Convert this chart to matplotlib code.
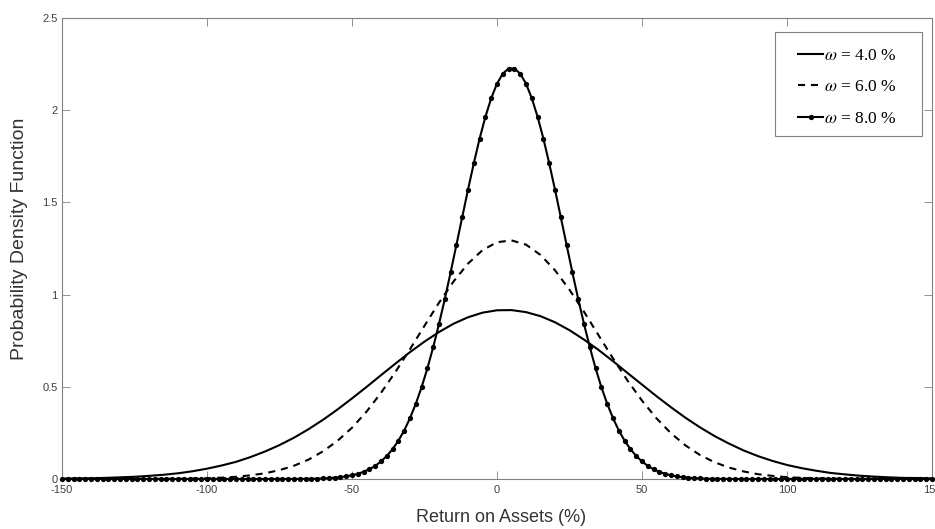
import numpy as np
import matplotlib
matplotlib.use("Agg")
import matplotlib.pyplot as plt
from matplotlib.patches import Rectangle

plt.rcParams["font.family"] = ["Liberation Sans", "DejaVu Sans"]
plt.rcParams["mathtext.fontset"] = "stix"

# Return on assets grid (%) for the two plain curves
roa_coarse = np.arange(-150, 151, 5)

# Density for omega = 4.0 %
pdf_w4 = [
    0.002, 0.003, 0.004, 0.006, 0.009, 0.012, 0.017, 0.023, 0.031, 0.042,
    0.056, 0.073, 0.093, 0.119, 0.149, 0.184, 0.224, 0.270, 0.321, 0.377,
    0.437, 0.499, 0.563, 0.626, 0.688, 0.745, 0.797, 0.842, 0.877, 0.902,
    0.915,
    0.916, 0.905, 0.883, 0.850, 0.807, 0.756, 0.700, 0.639, 0.575, 0.512,
    0.449, 0.389, 0.332, 0.280, 0.233, 0.192, 0.155, 0.124, 0.098, 0.076,
    0.059, 0.045, 0.033, 0.025, 0.018, 0.013, 0.009, 0.006, 0.005, 0.003,
]

# Density for omega = 6.0 %
pdf_w6 = [
    0.000, 0.000, 0.000, 0.000, 0.000, 0.000, 0.000, 0.001, 0.001, 0.002,
    0.004, 0.007, 0.012, 0.020, 0.031, 0.048, 0.072, 0.105, 0.150, 0.207,
    0.278, 0.365, 0.467, 0.581, 0.704, 0.831, 0.956, 1.071, 1.168, 1.241,
    1.284,
    1.294, 1.271, 1.215, 1.132, 1.026, 0.907, 0.780, 0.654, 0.534, 0.425,
    0.329, 0.248, 0.182, 0.130, 0.091, 0.062, 0.041, 0.026, 0.017, 0.010,
    0.006, 0.004, 0.002, 0.001, 0.001, 0.000, 0.000, 0.000, 0.000, 0.000,
]

# Finer grid (%) for the marked curve
roa_fine = np.arange(-150, 151, 2)

# Density for omega = 8.0 %
pdf_w8 = (
    [0.0] * 41
    + [
        0.001, 0.001, 0.001, 0.002, 0.003, 0.005, 0.007, 0.010, 0.014, 0.020,
        0.028, 0.039, 0.053, 0.071, 0.095, 0.125, 0.162, 0.208, 0.263, 0.330,
        0.408, 0.498, 0.600, 0.715, 0.841, 0.976, 1.120, 1.269, 1.420, 1.569,
        1.712, 1.846, 1.964, 2.065, 2.144, 2.198, 2.226,
        2.226, 2.198, 2.144, 2.065, 1.964, 1.846, 1.712, 1.569, 1.420, 1.269,
        1.120, 0.976, 0.841, 0.715, 0.600, 0.498, 0.408, 0.330, 0.263, 0.208,
        0.162, 0.125, 0.095, 0.071, 0.053, 0.039, 0.028, 0.020, 0.014, 0.010,
        0.007, 0.005, 0.003, 0.002, 0.001, 0.001, 0.001,
    ]
    + [0.0] * 36
)

series_labels = [r"$\omega$ = 4.0 %", r"$\omega$ = 6.0 %", r"$\omega$ = 8.0 %"]

x_ticks = [-150, -100, -50, 0, 50, 100, 150]
x_tick_labels = ["-150", "-100", "-50", "0", "50", "100", "150"]
y_ticks = [0, 0.5, 1, 1.5, 2, 2.5]
y_tick_labels = ["0", "0.5", "1", "1.5", "2", "2.5"]

fig = plt.figure(figsize=(9.35, 5.29), dpi=100)
ax = fig.add_axes([62 / 935, 50 / 529, 870 / 935, 461 / 529])

l1, = ax.plot(roa_coarse, pdf_w4, color="black", lw=1.5, label=series_labels[0])
l2, = ax.plot(roa_coarse, pdf_w6, color="black", lw=1.5,
              linestyle=(0, (3.4, 2.8)), label=series_labels[1])
l3, = ax.plot(roa_fine, pdf_w8, color="black", lw=1.5, marker="o",
              markersize=3.8, markeredgewidth=0, label=series_labels[2],
              clip_on=False, zorder=3)

ax.set_xlim(-150, 150)
ax.set_ylim(0, 2.5)
ax.set_xticks(x_ticks)
ax.set_xticklabels(x_tick_labels)
ax.set_yticks(y_ticks)
ax.set_yticklabels(y_tick_labels)

spine_col = "#808080"
for s in ax.spines.values():
    s.set_color(spine_col)
    s.set_linewidth(0.8)
ax.tick_params(direction="in", top=True, right=True, length=6, width=0.6,
               color=spine_col, labelsize=8, labelcolor="#404040")
ax.tick_params(axis="x", pad=4.5)
ax.tick_params(axis="y", pad=3)

ax.set_xlabel("Return on Assets (%)", fontsize=13, color="#333333")
ax.set_ylabel("Probability Density Function", fontsize=14, color="#333333")
ax.xaxis.set_label_coords(0.505, -0.065)
ax.yaxis.set_label_coords(-0.039, 0.522)

# Legend frame and entries
ax.add_patch(Rectangle((0.8195, 0.744), 0.169, 0.2256, transform=ax.transAxes,
                       facecolor="white", edgecolor=spine_col, linewidth=0.8,
                       zorder=4))
leg = ax.legend(handles=[l1, l2, l3], loc="upper left",
                bbox_to_anchor=(0.846, 0.936), frameon=False, borderpad=0,
                borderaxespad=0, handlelength=1.45, handletextpad=0.05,
                labelspacing=0.9,
                prop={"family": ["Liberation Serif"], "size": 12.5})
leg.set_zorder(5)

fig.savefig("out.png", dpi=100)
